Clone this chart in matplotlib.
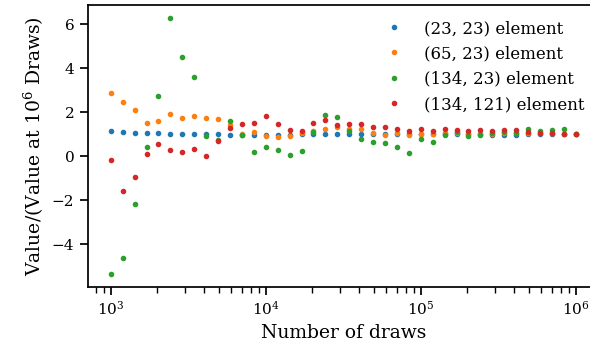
import matplotlib
matplotlib.use('Agg')
import matplotlib.pyplot as plt

# number of draws (log spaced, 13 per decade)
draws = [1000, 1194, 1425, 1701, 2031, 2424, 2894, 3455, 4125, 4924,
         5878, 7017, 8377, 10000, 11938, 14251, 17013, 20309, 24245, 28943,
         34551, 41246, 49239, 58780, 70170, 83768, 100000, 119378, 142510, 170125,
         203092, 242446, 289427, 345511, 412463, 492388, 587802, 701704, 837678, 1000000]

e23_23 = [1.14, 1.09, 1.05, 1.05, 1.05, 1.03, 1.00, 1.00, 1.03, 1.00,
          0.98, 0.98, 0.98, 0.99, 0.99, 0.99, 1.00, 1.01, 1.01, 1.01,
          1.01, 1.02, 1.02, 1.02, 1.02, 1.01, 1.01, 1.01, 1.01, 1.01,
          1.01, 1.00, 0.99, 0.99, 0.99, 1.00, 1.00, 1.00, 1.00, 1.00]

e65_23 = [2.86, 2.45, 2.09, 1.50, 1.59, 1.91, 1.74, 1.83, 1.74, 1.68,
          1.41, 1.01, 1.10, 0.93, 0.88, 0.93, 1.05, 1.17, 1.26, 1.32,
          1.26, 1.23, 1.04, 0.97, 1.04, 0.99, 1.01, 1.03, 1.05, 1.04,
          1.03, 1.03, 1.03, 1.04, 1.04, 1.04, 1.05, 1.04, 1.03, 1.00]

e134_23 = [-5.36, -4.62, -2.18, 0.41, 2.73, 6.30, 4.50, 3.60, 0.91, 0.74,
           1.59, 0.97, 0.21, 0.43, 0.28, 0.06, 0.24, 1.09, 1.87, 1.79,
           1.14, 0.81, 0.67, 0.62, 0.41, 0.14, 0.78, 0.64, 0.99, 1.09,
           0.91, 0.96, 1.08, 1.11, 1.08, 1.23, 1.14, 1.19, 1.23, 1.00]

e134_121 = [-0.18, -1.58, -0.93, 0.12, 0.55, 0.29, 0.18, 0.33, 0.00, 0.71,
            1.30, 1.47, 1.50, 1.84, 1.47, 1.22, 1.14, 1.52, 1.64, 1.44,
            1.47, 1.49, 1.32, 1.35, 1.26, 1.14, 1.23, 1.17, 1.23, 1.19,
            1.17, 1.22, 1.17, 1.20, 1.20, 1.11, 1.08, 1.05, 1.02, 1.00]

series = [(e23_23, '(23, 23) element'),
          (e65_23, '(65, 23) element'),
          (e134_23, '(134, 23) element'),
          (e134_121, '(134, 121) element')]

plt.rcParams['font.family'] = 'DejaVu Serif'
plt.rcParams['mathtext.fontset'] = 'dejavuserif'
plt.rcParams['axes.linewidth'] = 1.25
plt.rcParams['xtick.major.width'] = 1.25
plt.rcParams['ytick.major.width'] = 1.25
plt.rcParams['xtick.minor.width'] = 1.0
plt.rcParams['xtick.major.size'] = 6
plt.rcParams['ytick.major.size'] = 6
plt.rcParams['xtick.minor.size'] = 4

fig = plt.figure(figsize=(5.9, 3.52), dpi=100)
ax = fig.add_axes([87.5 / 590, 65 / 352, 511.5 / 590, 282 / 352])

for vals, label in series:
    ax.plot(draws, vals, '.', label=label)

ax.set_xscale('log')
ax.set_yticks([-4, -2, 0, 2, 4, 6])
ax.tick_params(axis='both', labelsize=11)
ax.set_xlabel('Number of draws', fontsize=13.5)
ax.set_ylabel('Value/(Value at $10^6$ Draws)', fontsize=13.5)
ax.legend(frameon=False, fontsize=12, loc='upper right', numpoints=1)

fig.savefig('out.png', dpi=100)
